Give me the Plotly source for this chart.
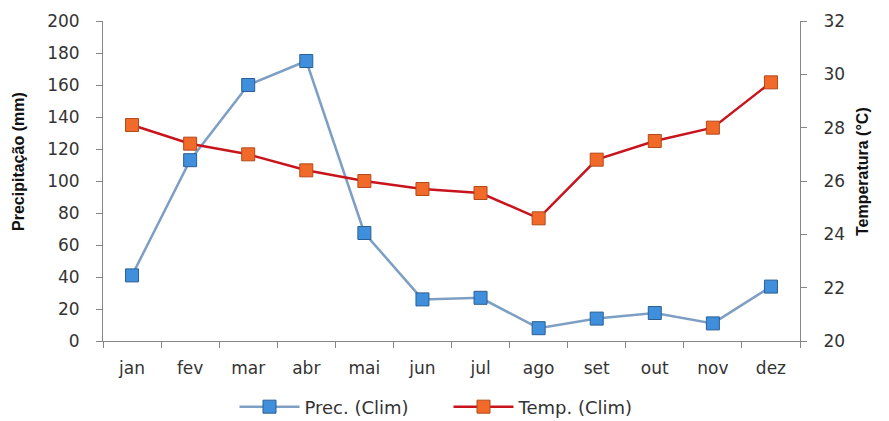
import plotly.graph_objects as go

months = ["jan", "fev", "mar", "abr", "mai", "jun", "jul", "ago", "set", "out", "nov", "dez"]
prec = [41, 113, 160, 175, 67.5, 26, 27, 8, 14, 17.5, 11, 34]
temp = [28.1, 27.4, 27.0, 26.4, 26.0, 25.7, 25.55, 24.6, 26.8, 27.5, 28.0, 29.7]

fig = go.Figure()
fig.add_trace(go.Scatter(
    x=months, y=prec, name="Prec. (Clim)", mode="lines+markers",
    line=dict(color="#7d9fc4", width=2.5),
    marker=dict(symbol="square", size=13, color="#3f8fdc", line=dict(color="#2b5f94", width=1)),
    yaxis="y"))
fig.add_trace(go.Scatter(
    x=months, y=temp, name="Temp. (Clim)", mode="lines+markers",
    line=dict(color="#c8141c", width=2.5),
    marker=dict(symbol="square", size=13, color="#f26a2a", line=dict(color="#b24a1a", width=1)),
    yaxis="y2"))

tickfont = dict(family="DejaVu Sans", size=17, color="#333333")
titlefont = dict(family="Liberation Sans", size=16, color="#111111")
fig.update_layout(
    width=881, height=413,
    margin=dict(l=95, r=89, t=13, b=80),
    paper_bgcolor="white", plot_bgcolor="white",
    showlegend=True,
    legend=dict(orientation="h", x=0.5, xanchor="center", xref="container",
                y=0.034, yanchor="middle", yref="container",
                itemwidth=60, entrywidth=139, entrywidthmode="pixels",
                font=dict(family="DejaVu Sans", size=18, color="#333333")),
    xaxis=dict(range=[-0.5, 11.5], showgrid=False, showline=True, linecolor="#868686", linewidth=1,
               ticks="outside", tickson="boundaries", ticklen=6, tickcolor="#868686",
               tickfont=tickfont, ticklabelstandoff=12, automargin=False),
    yaxis=dict(range=[0, 200], dtick=20, showgrid=False, showline=True, linecolor="#868686",
               ticks="outside", ticklen=6, tickcolor="#868686", tickfont=tickfont,
               ticklabelstandoff=13, zeroline=False, automargin=False),
    yaxis2=dict(range=[20, 32], dtick=2, overlaying="y", side="right", showgrid=False,
                showline=True, linecolor="#868686", ticks="outside", ticklen=6, tickcolor="#868686",
                tickfont=tickfont, ticklabelstandoff=13, zeroline=False, automargin=False),
    annotations=[
        dict(text="<b>Precipitação (mm)</b>", textangle=-90, font=titlefont,
             xref="paper", yref="paper", x=-0.122, y=0.5625,
             xanchor="center", yanchor="middle", showarrow=False),
        dict(text="<b>Temperatura (°C)</b>", textangle=-90, font=titlefont,
             xref="paper", yref="paper", x=1.089, y=0.528,
             xanchor="center", yanchor="middle", showarrow=False),
    ],
)
fig.write_html("out.html")
